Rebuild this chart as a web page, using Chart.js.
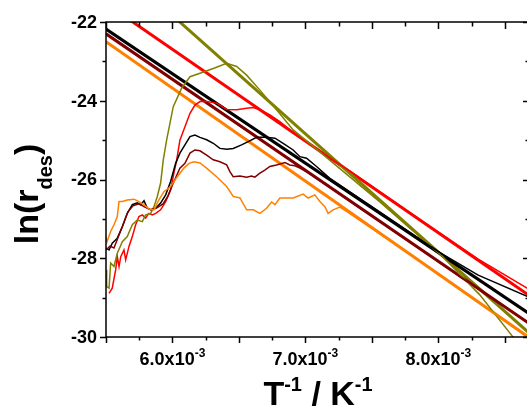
<!DOCTYPE html>
<html lang="en">
  <head>
    <meta charset="UTF-8" />
    <title>ln(r_des) vs 1/T</title>
    <style>
      html, body { margin: 0; padding: 0; background: #fff; overflow: hidden; }
      .container { position: relative; width: 532px; height: 407px; }
    </style>
    <script src="https://cdn.jsdelivr.net/npm/chart.js"></script>
  </head>
  <body>
    <div class="container">
      <canvas id="chart" width="532" height="407"></canvas>
    </div>
    <script>
      // x values are T^-1 in units of 10^-3 K^-1, y values are ln(r_des)
      const xTickLabels = [6.0, 7.0, 8.0];
      const yTickLabels = [-22, -24, -26, -28, -30];

      const redData = [[5.523,-28.89],[5.547,-28.76],[5.573,-28.29],[5.585,-27.96],[5.598,-28.21],[5.611,-27.96],[5.635,-27.79],[5.648,-28.04],[5.673,-27.70],[5.698,-27.45],[5.723,-27.15],[5.748,-26.94],[5.773,-26.90],[5.798,-26.98],[5.823,-26.86],[5.848,-26.90],[5.874,-26.86],[5.911,-26.77],[5.949,-26.56],[5.986,-26.26],[6.011,-25.84],[6.032,-25.50],[6.056,-25.00],[6.094,-24.66],[6.132,-24.32],[6.169,-24.11],[6.207,-24.02],[6.257,-24.02],[6.332,-24.06],[6.408,-24.22],[6.483,-24.23],[6.558,-24.19],[6.608,-24.17],[6.658,-24.23],[6.733,-24.36],[6.808,-24.53],[6.883,-24.74],[6.959,-24.93],[7.4,-25.94],[7.861,-27.01],[8.3,-28.02],[8.69,-28.80]];
      const blackData = [[5.500,-27.74],[5.523,-27.79],[5.547,-27.62],[5.585,-27.49],[5.623,-27.20],[5.660,-26.86],[5.698,-26.64],[5.735,-26.59],[5.761,-26.64],[5.786,-26.54],[5.811,-26.73],[5.836,-26.77],[5.874,-26.73],[5.911,-26.60],[5.949,-26.39],[5.986,-26.05],[6.024,-25.59],[6.056,-25.33],[6.094,-25.12],[6.132,-24.91],[6.169,-24.87],[6.207,-24.93],[6.257,-24.99],[6.307,-25.08],[6.357,-25.21],[6.408,-25.23],[6.457,-25.21],[6.520,-25.12],[6.570,-25.04],[6.633,-24.93],[6.708,-24.93],[6.771,-24.95],[6.833,-25.08],[6.908,-25.25],[6.959,-25.42],[7.009,-25.46],[7.084,-25.67],[7.184,-25.97],[7.6,-26.92],[8.0,-27.83],[8.3,-28.43],[8.69,-29.00]];
      const maroonData = [[5.500,-27.79],[5.530,-27.69],[5.560,-27.74],[5.590,-27.48],[5.628,-27.15],[5.665,-26.82],[5.703,-26.67],[5.748,-26.62],[5.793,-26.70],[5.838,-26.77],[5.883,-26.72],[5.929,-26.62],[5.966,-26.42],[6.004,-26.11],[6.056,-25.71],[6.094,-25.59],[6.132,-25.33],[6.169,-25.25],[6.207,-25.27],[6.257,-25.38],[6.307,-25.50],[6.357,-25.55],[6.408,-25.63],[6.432,-25.80],[6.457,-25.93],[6.508,-25.91],[6.558,-25.94],[6.595,-25.91],[6.620,-25.94],[6.658,-25.84],[6.695,-25.76],[6.733,-25.67],[6.783,-25.63],[6.846,-25.57],[6.883,-25.63],[6.921,-25.65],[6.959,-25.71],[7.034,-25.85],[7.6,-27.16],[8.2,-28.55],[8.69,-29.66]];
      const orangeData = [[5.500,-27.45],[5.508,-27.58],[5.535,-27.32],[5.560,-27.15],[5.585,-26.94],[5.598,-26.56],[5.623,-26.56],[5.660,-26.52],[5.711,-26.50],[5.748,-26.56],[5.786,-26.64],[5.823,-26.75],[5.861,-26.77],[5.898,-26.52],[5.936,-26.31],[5.986,-26.18],[6.036,-25.93],[6.086,-25.71],[6.124,-25.59],[6.162,-25.55],[6.207,-25.58],[6.257,-25.71],[6.332,-25.93],[6.408,-26.18],[6.457,-26.43],[6.508,-26.47],[6.558,-26.77],[6.608,-26.77],[6.658,-26.86],[6.708,-26.73],[6.746,-26.57],[6.771,-26.64],[6.808,-26.47],[6.908,-26.47],[6.983,-26.37],[7.021,-26.47],[7.071,-26.39],[7.109,-26.56],[7.147,-26.69],[7.171,-26.86],[7.209,-26.77],[7.259,-26.70],[7.310,-26.81],[7.8,-27.93],[8.3,-29.11],[8.69,-30.05]];
      const oliveData = [[5.500,-28.29],[5.505,-28.72],[5.523,-28.76],[5.535,-28.12],[5.560,-28.21],[5.585,-27.87],[5.623,-27.58],[5.660,-27.45],[5.698,-27.15],[5.735,-27.03],[5.773,-27.07],[5.798,-26.90],[5.836,-26.86],[5.861,-26.69],[5.886,-26.43],[5.911,-26.09],[5.931,-25.50],[5.956,-25.00],[6.006,-24.15],[6.069,-23.68],[6.132,-23.39],[6.207,-23.30],[6.307,-23.18],[6.408,-23.05],[6.483,-23.13],[6.558,-23.35],[6.658,-23.73],[6.783,-24.23],[6.908,-24.74],[7.059,-25.16],[7.56,-26.57],[8.034,-27.96],[8.312,-28.93],[8.560,-29.99],[8.62,-30.2]];

      // linear fits: value at each end of the axis
      const fitX = [5.5, 8.69];
      const redFit = [-21.53, -28.96];
      const blackFit = [-22.18, -29.42];
      const maroonFit = [-22.30, -29.67];
      const orangeFit = [-22.50, -30.03];
      const oliveFit = [-20.33, -29.92];

      const FONT = '"Liberation Sans", Arial, sans-serif';

      const curve = (pairs, color) => ({
        data: pairs.map(([x, y]) => ({ x, y })),
        borderColor: color,
        borderWidth: 1.5,
        pointRadius: 0,
        showLine: true,
        tension: 0,
      });
      const fit = (ys, color) => ({
        data: fitX.map((x, i) => ({ x, y: ys[i] })),
        borderColor: color,
        borderWidth: 3,
        pointRadius: 0,
        showLine: true,
      });

      // text with a raised / lowered small part, returns width
      function drawPieces(ctx, pieces, x, y, measureOnly) {
        let w = 0;
        pieces.forEach((p) => {
          ctx.font = "bold " + p.size + "px " + FONT;
          if (!measureOnly) ctx.fillText(p.t, x + w, y + (p.dy || 0));
          w += ctx.measureText(p.t).width;
        });
        return w;
      }

      const originAxes = {
        id: "originAxes",
        afterDatasetsDraw(chart) {
          const { ctx, chartArea: a, scales } = chart;
          const xs = scales.x, ys = scales.y;
          ctx.save();
          ctx.strokeStyle = "#000";
          ctx.fillStyle = "#000";
          ctx.lineWidth = 1.5;
          ctx.strokeRect(a.left, a.top, a.right - a.left, a.bottom - a.top);

          ctx.beginPath();
          // x ticks every 0.25, long every 0.5
          for (let v = 5.5; v <= 8.69; v += 0.25) {
            const px = Math.round(xs.getPixelForValue(v)) + 0.5;
            const major = Math.abs(v * 2 - Math.round(v * 2)) < 1e-6;
            const len = major ? 6 : 3.5;
            ctx.moveTo(px, a.bottom); ctx.lineTo(px, a.bottom + len);
            ctx.moveTo(px, a.top); ctx.lineTo(px, a.top + len + 1);
          }
          for (let v = -30; v <= -22; v += 1) {
            const py = Math.round(ys.getPixelForValue(v)) + 0.5;
            const major = v % 2 === 0;
            const len = major ? 6 : 3.5;
            ctx.moveTo(a.left, py); ctx.lineTo(a.left - len, py);
            ctx.moveTo(a.right, py); ctx.lineTo(a.right - len - 1, py);
          }
          ctx.stroke();

          // y tick labels
          ctx.font = "bold 18px " + FONT;
          ctx.textAlign = "right";
          ctx.textBaseline = "middle";
          yTickLabels.forEach((v) => {
            ctx.fillText(String(v), a.left - 9, ys.getPixelForValue(v) + 1);
          });

          // x tick labels  "6.0x10^-3"
          ctx.textAlign = "left";
          ctx.textBaseline = "alphabetic";
          xTickLabels.forEach((v) => {
            const pieces = [
              { t: v.toFixed(1) + "x10", size: 18 },
              { t: "-3", size: 12, dy: -8 },
            ];
            const w = drawPieces(ctx, pieces, 0, 0, true);
            drawPieces(ctx, pieces, xs.getPixelForValue(v) - w / 2, 365);
          });

          // x title  T^-1 / K^-1
          const xt = [
            { t: "T", size: 34 },
            { t: "-1", size: 20, dy: -14 },
            { t: " / K", size: 34 },
            { t: "-1", size: 20, dy: -14 },
          ];
          const xw = drawPieces(ctx, xt, 0, 0, true);
          drawPieces(ctx, xt, 318 - xw / 2, 405);

          // y title  ln(r_des)
          const yt = [
            { t: "ln(r", size: 34 },
            { t: "des", size: 20, dy: 14 },
            { t: ")", size: 34 },
          ];
          const yw = drawPieces(ctx, yt, 0, 0, true);
          ctx.translate(38, 194);
          ctx.rotate(-Math.PI / 2);
          drawPieces(ctx, yt, -yw / 2, 0);
          ctx.restore();
        },
      };

      new Chart(document.getElementById("chart"), {
        type: "scatter",
        data: {
          datasets: [
            curve(orangeData, "#ff8000"),
            curve(maroonData, "#800000"),
            curve(blackData, "#000000"),
            curve(oliveData, "#808000"),
            curve(redData, "#ff0000"),
            fit(orangeFit, "#ff8000"),
            fit(maroonFit, "#800000"),
            fit(blackFit, "#000000"),
            fit(oliveFit, "#808000"),
            fit(redFit, "#ff0000"),
          ],
        },
        options: {
          responsive: false,
          animation: false,
          devicePixelRatio: 1,
          layout: { padding: { left: 106, top: 22, right: 2, bottom: 70 } },
          plugins: { legend: { display: false }, tooltip: { enabled: false } },
          scales: {
            x: { type: "linear", min: 5.5, max: 8.69, display: false },
            y: { type: "linear", min: -30, max: -22, display: false },
          },
        },
        plugins: [originAxes],
      });
    </script>
  </body>
</html>
